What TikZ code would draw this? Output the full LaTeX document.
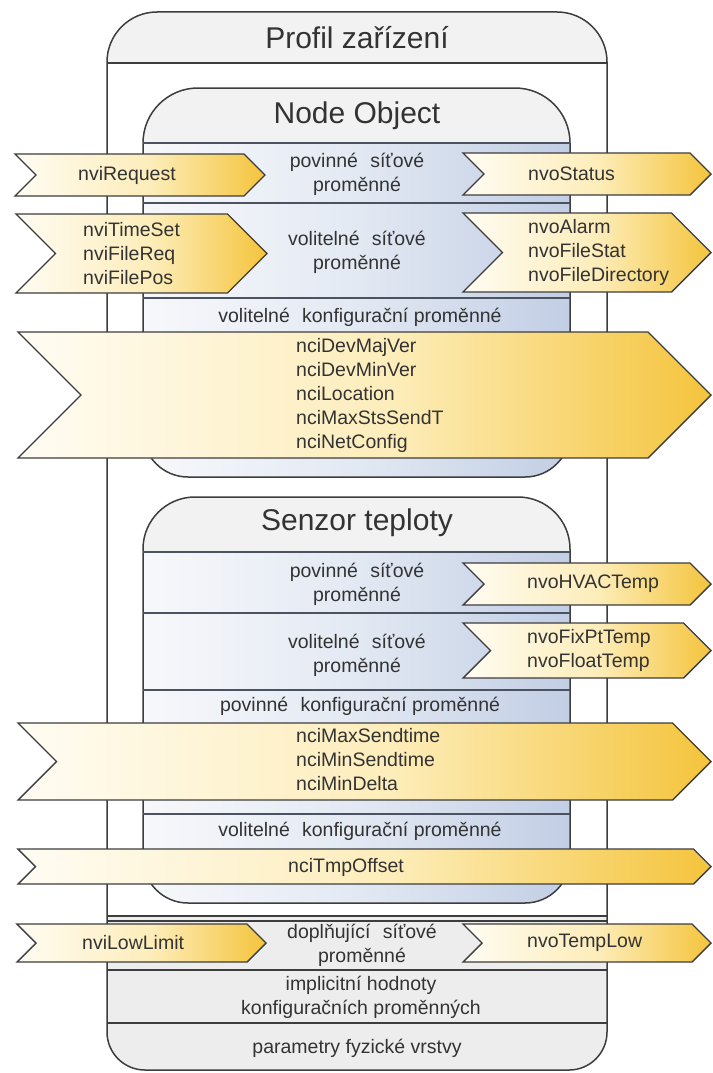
\documentclass[tikz,border=0pt]{standalone}
\usepackage{fontspec}
\setmainfont{Liberation Sans}
\definecolor{edge}{HTML}{3D3D3D}
\definecolor{rowedge}{HTML}{4B5360}
\definecolor{bandfill}{HTML}{F2F2F2}
\definecolor{basefill}{HTML}{EDEDED}
\definecolor{txt}{HTML}{333333}
\definecolor{blA}{HTML}{F7F8FB}
\definecolor{blB}{HTML}{E3E9F3}
\definecolor{blC}{HTML}{C2CEE5}
\definecolor{ylA}{HTML}{FFFCF3}
\definecolor{ylB}{HTML}{FDEDBA}
\definecolor{ylC}{HTML}{F4C43C}
\pgfdeclarehorizontalshading{yelshade}{100bp}{color(0bp)=(ylA); color(25bp)=(ylA); color(52bp)=(ylB); color(75bp)=(ylC); color(100bp)=(ylC)}
\pgfdeclarehorizontalshading{blushade}{100bp}{color(0bp)=(blA); color(25bp)=(blA); color(50bp)=(blB); color(75bp)=(blC); color(100bp)=(blC)}
% chevron band: left x, tip x, top y, bottom y
\newcommand\chevpath[4]{(#1,#3) -- ({#2-(#4-#3)/2},#3) -- (#2,{(#3+#4)/2}) -- ({#2-(#4-#3)/2},#4) -- (#1,#4) -- ({#1+(#4-#3)/2},{(#3+#4)/2}) -- cycle}
% box with rounded corners: x1, x2, y1, y2, top radius, bottom radius
\newcommand\rboxpath[6]{(#1,{(#3+#4)/2}) [rounded corners=#5] |- ({(#1+#2)/2},#3) -| (#2,{(#3+#4)/2}) [rounded corners=#6] |- ({(#1+#2)/2},#4) -| (#1,{(#3+#4)/2+1}) -- cycle}
\newcommand\wsp{\hspace{0.35em}}
\tikzset{
  boxline/.style={draw=edge, line width=1.5pt},
  rowline/.style={draw=rowedge, line width=2pt},
  band/.style={draw=edge, line width=1.4pt, shading=yelshade},
  lbl/.style={font=\fontsize{19.5}{24}\selectfont, text=txt, inner sep=0pt, align=center},
  lbll/.style={lbl, align=left, anchor=west},
  ttl/.style={font=\fontsize{30}{36}\selectfont, text=txt, inner sep=0pt}
}
\begin{document}
\begin{tikzpicture}[x=1pt, y=-1pt]
\useasboundingbox (0,0) rectangle (712,1073);
\fill[white] (0,0) rectangle (712,1073);

% device profile frame
\begin{scope}
  \clip \rboxpath{107}{607}{12}{1070}{50pt}{38pt};
  \fill[white] (100,0) rectangle (620,1080);
  \fill[bandfill] (100,0) rectangle (620,63);
  \fill[basefill] (100,916) rectangle (620,1080);
\end{scope}
\draw[boxline] \rboxpath{107}{607}{12}{1070}{50pt}{38pt};
\draw[boxline] (107,63) -- (607,63);
\draw[boxline] (107,916) -- (607,916);
\draw[boxline] (107,921) -- (607,921);
\draw[boxline] (107,970) -- (607,970);
\draw[boxline] (107,1023) -- (607,1023);

% Node Object
\begin{scope}
  \clip \rboxpath{143}{570}{88}{477}{55pt}{45pt};
  \fill[bandfill] (140,85) rectangle (575,480);
  \shade[shading=blushade] (143,143) rectangle (570,480);
\end{scope}
\draw[boxline] \rboxpath{143}{570}{88}{477}{55pt}{45pt};
\draw[rowline] (143,143) -- (570,143);
\draw[rowline] (143,203) -- (570,203);
\draw[rowline] (143,298) -- (570,298);

% temperature sensor
\begin{scope}
  \clip \rboxpath{143}{570}{497}{903}{52pt}{45pt};
  \fill[bandfill] (140,490) rectangle (575,910);
  \shade[shading=blushade] (143,552) rectangle (570,910);
\end{scope}
\draw[boxline] \rboxpath{143}{570}{497}{903}{52pt}{45pt};
\draw[rowline] (143,552) -- (570,552);
\draw[rowline] (143,613) -- (570,613);
\draw[rowline] (143,690) -- (570,690);
\draw[rowline] (143,814) -- (570,814);

% network and configuration variable bands
\draw[band] \chevpath{15}{265}{154}{196};
\draw[band] \chevpath{16}{267}{214}{293};
\draw[band] \chevpath{463}{711}{153}{195};
\draw[band] \chevpath{463}{711}{213}{292};
\draw[band] \chevpath{18}{711}{332}{458};
\draw[band] \chevpath{463}{711}{563}{605};
\draw[band] \chevpath{463}{711}{623}{678};
\draw[band] \chevpath{18}{711}{723}{800};
\draw[band] \chevpath{18}{711}{849}{884};
\draw[band] \chevpath{17}{266}{924}{962};
\draw[band] \chevpath{463}{711}{924}{962};

% titles
\node[ttl] (profil) at (357,38) {Profil zařízení};
\node[ttl] (nodeobj) at (357,116) {Node Object};
\node[ttl] (senzor) at (357,523) {Senzor teploty};

% section labels
\node[lbl] (nomand) at (357,174) {povinné\wsp{} síťové\\proměnné};
\node[lbl] (noopt) at (357,252) {volitelné\wsp{} síťové\\proměnné};
\node[lbl] (nocfg) at (360,317) {volitelné\wsp{} konfigurační proměnné};
\node[lbl] (semand) at (357,584) {povinné\wsp{} síťové\\proměnné};
\node[lbl] (seopt) at (357,655) {volitelné\wsp{} síťové\\proměnné};
\node[lbl] (secfgm) at (360,706) {povinné\wsp{} konfigurační proměnné};
\node[lbl] (secfgo) at (360,831) {volitelné\wsp{} konfigurační proměnné};
\node[lbl] (extra) at (362,945) {doplňující\wsp{} síťové\\proměnné};
\node[lbl] (defaults) at (361,997) {implicitní hodnoty\\konfiguračních proměnných};
\node[lbl] (phys) at (357,1048) {parametry fyzické vrstvy};

% variable names
\node[lbll] (nvireq) at (78,175) {nviRequest};
\node[lbll] (nviset) at (83,254) {nviTimeSet\\nviFileReq\\nviFilePos};
\node[lbll] (nvostat) at (528,174) {nvoStatus};
\node[lbll] (nvoset) at (528,252) {nvoAlarm\\nvoFileStat\\nvoFileDirectory};
\node[lbll] (nciset) at (296,395) {nciDevMajVer\\nciDevMinVer\\nciLocation\\nciMaxStsSendT\\nciNetConfig};
\node[lbll] (nvohvac) at (527,584) {nvoHVACTemp};
\node[lbll] (nvotemps) at (527,650) {nvoFixPtTemp\\nvoFloatTemp};
\node[lbll] (ncisend) at (296,760) {nciMaxSendtime\\nciMinSendtime\\nciMinDelta};
\node[lbl] (ncioff) at (346,867) {nciTmpOffset};
\node[lbll] (nvilow) at (82,943) {nviLowLimit};
\node[lbll] (nvolow) at (527,943) {nvoTempLow};
\end{tikzpicture}
\end{document}
